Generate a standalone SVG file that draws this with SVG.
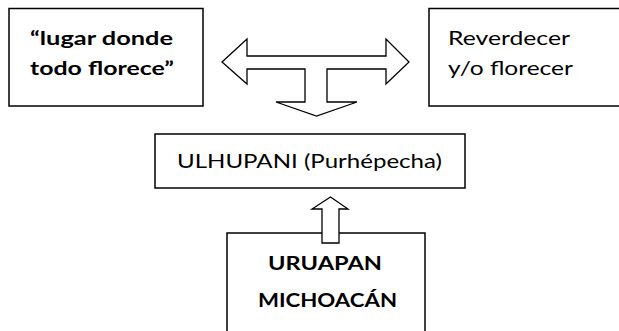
<svg xmlns="http://www.w3.org/2000/svg" width="619" height="331" viewBox="0 0 619 331">
<style>
.box{fill:#fff;stroke:#000;stroke-width:1.5}
.arr{fill:#fff;stroke:#000;stroke-width:1.3;stroke-linejoin:miter}
.t{font-family:Lato,"Open Sans",sans-serif;font-size:19px;fill:#000}
.b{font-weight:bold}
</style>
<rect width="619" height="331" fill="#fff"/>
<g id="node-lugar">
<rect class="box" x="9" y="8.5" width="194" height="97.5"/>
<text class="t b" x="30" y="45" textLength="143" lengthAdjust="spacingAndGlyphs">“lugar donde</text>
<text class="t b" x="30" y="75" textLength="144" lengthAdjust="spacingAndGlyphs">todo florece”</text>
</g>
<g id="node-reverdecer">
<rect class="box" x="429" y="8.5" width="200" height="97.5"/>
<text class="t" x="448" y="45" textLength="122" lengthAdjust="spacingAndGlyphs">Reverdecer</text>
<text class="t" x="448" y="75" textLength="125" lengthAdjust="spacingAndGlyphs">y/o florecer</text>
</g>
<g id="node-ulhupani">
<rect class="box" x="155" y="134" width="310" height="54"/>
<text class="t" x="177" y="168" textLength="265" lengthAdjust="spacingAndGlyphs">ULHUPANI (Purhépecha)</text>
</g>
<g id="node-uruapan">
<rect class="box" x="227" y="233" width="198" height="120"/>
<text class="t b" x="268" y="270" textLength="114" lengthAdjust="spacingAndGlyphs">URUAPAN</text>
<text class="t b" x="258" y="307" textLength="139" lengthAdjust="spacingAndGlyphs">MICHOACÁN</text>
</g>
<g id="connectors">
<path class="arr" d="M222,62 L247,39 L247,56 L386,56 L386,39 L409,62 L386,84 L386,69 L327,69 L327,102 L357,102 L316.5,116 L276,102 L305,102 L305,69 L247,69 L247,84 Z"/>
<path class="arr" d="M330.5,197 L348,209 L339,209 L339,243 L322,243 L322,209 L312,209 Z"/>
</g>
</svg>
